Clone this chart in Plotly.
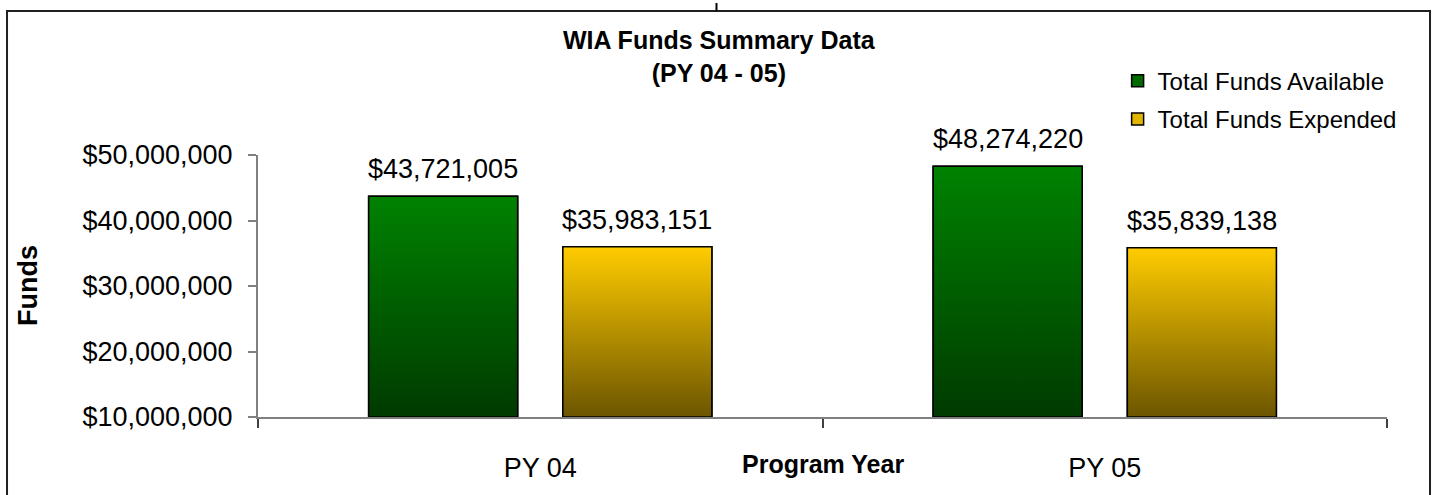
import plotly.graph_objects as go

# data
years = ['PY 04', 'PY 05']
available = [43721005, 48274220]
expended = [35983151, 35839138]

Y_MIN, Y_MAX = 10000000, 50000000
BAR_W = 0.264
OFFSETS = {'available': -0.304, 'expended': 0.040}
FONT = 'Liberation Sans, Arial, sans-serif'

pos = list(range(len(years)))

series = [
    ('Total Funds Available', available, 'available', '#006A00', [[0, '#003A00'], [1, '#008200']]),
    ('Total Funds Expended', expended, 'expended', '#E0B400', [[0, '#6C5500'], [1, '#FFCC00']]),
]

fig = go.Figure()

# real bars (also give the legend its squares)
for name, vals, key, col, _ in series:
    fig.add_trace(go.Bar(x=pos, y=vals, name=name, legendgroup=key,
                         width=BAR_W, offset=OFFSETS[key],
                         marker=dict(color=col, line=dict(color='black', width=1.5))))

# gradient skin on top of every bar, same geometry as the bars
for name, vals, key, col, scale in series:
    for p, v in zip(pos, vals):
        x0 = p + OFFSETS[key]
        x1 = x0 + BAR_W
        fig.add_trace(go.Scatter(x=[x0, x0, x1, x1, x0], y=[Y_MIN, v, v, Y_MIN, Y_MIN],
                                 mode='lines', fill='toself', legendgroup=key,
                                 fillgradient=dict(type='vertical', colorscale=scale),
                                 line=dict(color='black', width=1.5),
                                 showlegend=False, hoverinfo='skip'))
        fig.add_annotation(x=x0 + BAR_W / 2, y=v, text='${:,}'.format(v),
                           showarrow=False, yanchor='bottom', yshift=10,
                           font=dict(family=FONT, size=27, color='black'))

fig.update_layout(
    width=1433, height=495,
    margin=dict(l=258, r=46, t=155, b=71),
    plot_bgcolor='white', paper_bgcolor='white',
    font=dict(family=FONT, color='black'),
    legend=dict(x=0.7614, y=1.368, xanchor='left', yanchor='top',
                font=dict(size=24), bgcolor='rgba(0,0,0,0)',
                traceorder='grouped', tracegroupgap=4),
    showlegend=True,
)

fig.update_xaxes(range=[-0.5, 1.5], tickvals=pos, ticktext=years,
                 ticks='', showgrid=False, zeroline=False,
                 showline=True, linecolor='#808080', linewidth=2,
                 tickfont=dict(size=27), ticklabelstandoff=26,
                 minor=dict(tickvals=[-0.5, 0.5, 1.5], ticks='outside', ticklen=9,
                            tickcolor='#404040', tickwidth=1.5, showgrid=False))
fig.update_yaxes(range=[Y_MIN, Y_MAX], dtick=10000000, tickformat='$,.0f',
                 ticks='outside', ticklen=8, tickcolor='#808080', tickwidth=1.5,
                 showgrid=False, zeroline=False,
                 showline=True, linecolor='#808080', linewidth=2,
                 tickfont=dict(size=27), ticklabelstandoff=10)

# chart title
fig.add_annotation(xref='paper', yref='paper', x=0.4092, y=1.3773,
                   xanchor='center', yanchor='middle', showarrow=False,
                   text='<b>WIA Funds Summary Data<br>(PY 04 - 05)</b>',
                   font=dict(size=25, color='black'))

# axis titles
fig.add_annotation(xref='paper', yref='paper', x=-0.2037, y=0.5, xanchor='center',
                   yanchor='middle', text='<b>Funds</b>',
                   textangle=-90, showarrow=False, font=dict(size=27, color='black'))
fig.add_annotation(xref='paper', yref='paper', x=0.5, y=-0.178, xanchor='center',
                   yanchor='middle', text='<b>Program Year</b>', showarrow=False,
                   font=dict(size=25, color='black'))

# outer chart frame and the small tick above it
fig.add_shape(type='rect', xref='paper', yref='paper',
              x0=-0.2223, x1=1.0381, y0=-0.5, y1=1.550,
              line=dict(color='#202020', width=2), fillcolor='rgba(0,0,0,0)')
fig.add_shape(type='line', xref='paper', yref='paper',
              x0=0.4061, x1=0.4061, y0=1.550, y1=1.58,
              line=dict(color='black', width=2))

# drop the default 8px body margin so the figure sits at the page corner
fig.write_html('out.html', config={'displayModeBar': False},
               post_script="document.body.style.margin='0px';")
